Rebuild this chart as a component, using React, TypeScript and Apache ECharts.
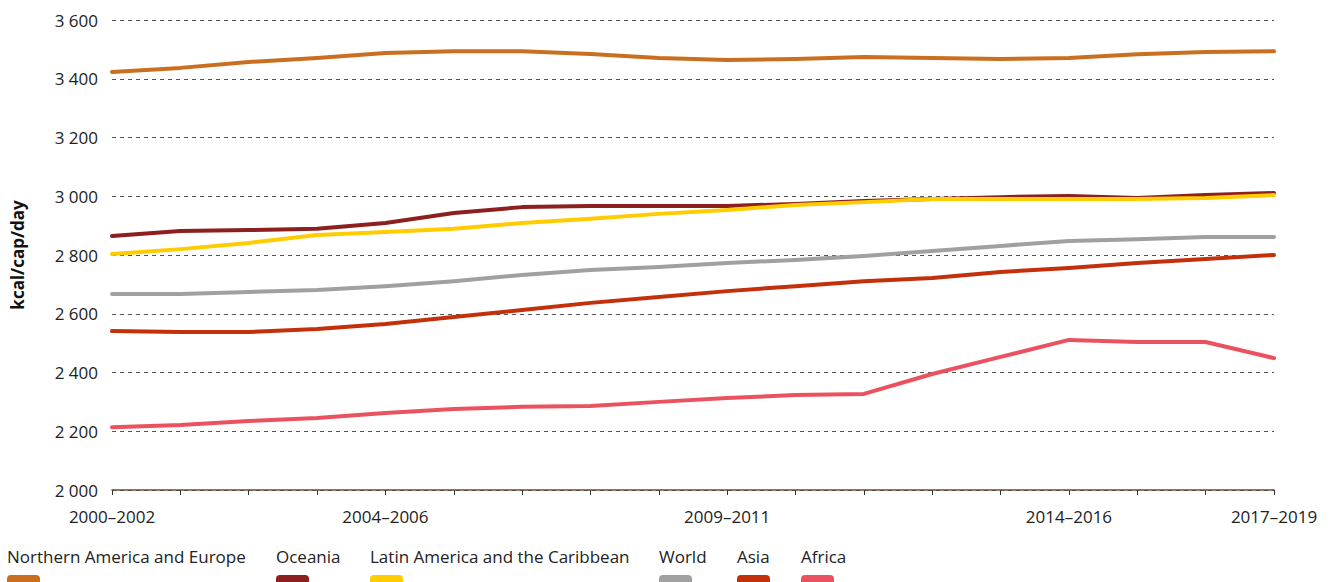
import React, { useEffect, useRef } from "react";
import * as echarts from "echarts";

const categories = [
  "2000–2002", "2001–2003", "2002–2004", "2003–2005", "2004–2006", "2005–2007",
  "2006–2008", "2007–2009", "2008–2010", "2009–2011", "2010–2012", "2011–2013",
  "2012–2014", "2013–2015", "2014–2016", "2015–2017", "2016–2018", "2017–2019",
];
const shownLabels = [0, 4, 9, 14, 17];

const seriesNames = [
  "Northern America and Europe",
  "Oceania",
  "Latin America and the Caribbean",
  "World",
  "Asia",
  "Africa",
];
const seriesColors = ["#C96F1F", "#8E1F1F", "#FFCC00", "#A0A0A0", "#C4300C", "#EB5260"];

const northAmericaEurope = [3423, 3437, 3457, 3471, 3488, 3494, 3494, 3484, 3471, 3464, 3467, 3474, 3471, 3467, 3471, 3483, 3491, 3494];
const oceania = [2865, 2882, 2885, 2889, 2909, 2943, 2963, 2967, 2967, 2967, 2974, 2984, 2991, 2997, 3001, 2994, 3004, 3011];
const latinAmerica = [2803, 2820, 2841, 2868, 2878, 2889, 2909, 2923, 2940, 2953, 2970, 2980, 2991, 2991, 2991, 2991, 2994, 3004];
const world = [2667, 2667, 2674, 2681, 2694, 2711, 2732, 2749, 2759, 2773, 2783, 2797, 2814, 2831, 2848, 2854, 2861, 2861];
const asia = [2541, 2538, 2538, 2548, 2565, 2589, 2613, 2637, 2657, 2677, 2694, 2711, 2722, 2742, 2756, 2773, 2786, 2800];
const africa = [2214, 2221, 2235, 2245, 2262, 2276, 2283, 2286, 2300, 2313, 2323, 2327, 2395, 2453, 2511, 2504, 2504, 2449];

const seriesData = [northAmericaEurope, oceania, latinAmerica, world, asia, africa];
const legendX = [7, 276, 370, 659, 737, 801];

const FONT = "'Open Sans', 'Noto Sans', sans-serif";

export default function App() {
  const ref = useRef<HTMLDivElement>(null);
  useEffect(() => {
    document.body.style.margin = "0";
    const chart = echarts.init(ref.current!, null, { renderer: "svg" });
    const graphics: any[] = [];
    seriesNames.forEach((name, i) => {
      graphics.push({
        type: "text",
        left: legendX[i],
        top: 548,
        style: { text: name, font: `17px ${FONT}`, fill: "#222" },
      });
      graphics.push({
        type: "rect",
        left: legendX[i],
        top: 575,
        shape: { width: 33, height: 14, r: 4 },
        style: { fill: seriesColors[i] },
      });
    });
    chart.setOption({
      animation: false,
      textStyle: { fontFamily: FONT },
      grid: { left: 112, right: 61, top: 20, bottom: 92, containLabel: false },
      xAxis: {
        type: "category",
        data: categories,
        boundaryGap: false,
        axisLine: { lineStyle: { color: "#6B4A3A", width: 1.5 } },
        axisTick: { show: true, length: 5, lineStyle: { color: "#333" }, interval: 0 },
        axisLabel: {
          interval: (idx: number) => shownLabels.includes(idx),
          fontSize: 17,
          color: "#222",
          margin: 18,
          fontFamily: FONT,
        },
        splitLine: { show: false },
      },
      yAxis: {
        type: "value",
        min: 2000,
        max: 3600,
        interval: 200,
        name: "kcal/cap/day",
        nameLocation: "middle",
        nameGap: 86,
        nameTextStyle: { fontSize: 17, fontWeight: "bold", color: "#111", fontFamily: FONT },
        axisLine: { show: false },
        axisTick: { show: false },
        axisLabel: {
          fontSize: 17,
          color: "#222",
          margin: 14,
          fontFamily: FONT,
          formatter: (v: number) => String(v).replace(/\B(?=(\d{3})+(?!\d))/g, " "),
        },
        splitLine: { lineStyle: { type: [4, 4], color: "#555", width: 1 } },
      },
      series: seriesNames.map((name, i) => ({
        name,
        type: "line",
        data: seriesData[i],
        showSymbol: false,
        symbol: "none",
        lineStyle: { color: seriesColors[i], width: 4, cap: "round", join: "round" },
        itemStyle: { color: seriesColors[i] },
      })),
      graphic: graphics,
    });
    return () => chart.dispose();
  }, []);
  return <div ref={ref} style={{ width: 1335, height: 582 }} />;
}
